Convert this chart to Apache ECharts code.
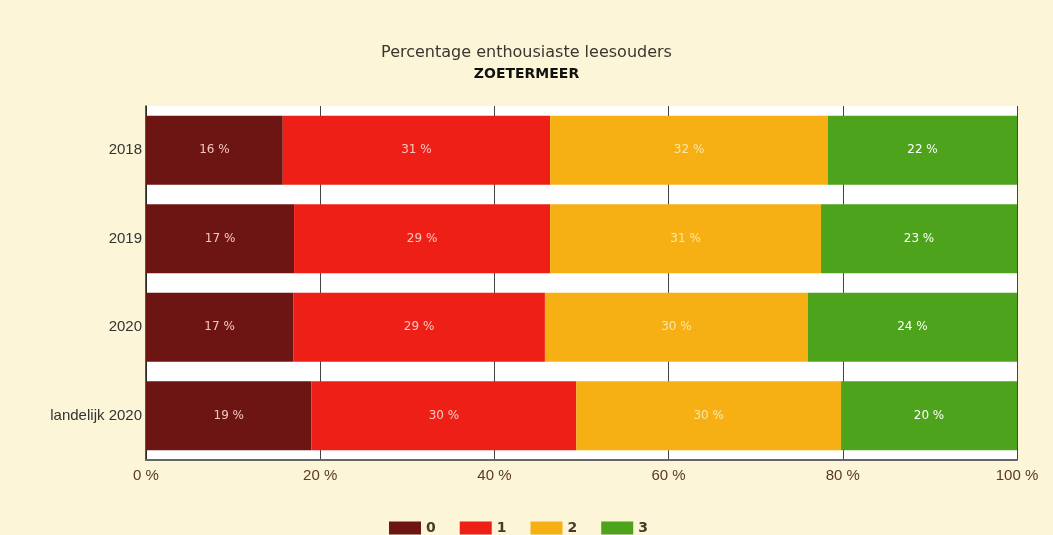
<!DOCTYPE html>
<html>
<head>
<meta charset="utf-8">
<script src="https://cdn.jsdelivr.net/npm/echarts@6/dist/echarts.min.js"></script>
<style>
  html, body { margin: 0; padding: 0; background: #fcf5d7; }
  #main { width: 1053px; height: 535px; }
</style>
</head>
<body>
<div id="main"></div>
<script>
// categorieen (boven naar beneden)
var categories = ["2018", "2019", "2020", "landelijk 2020"];
var seriesNames = ["0", "1", "2", "3"];
// aandelen in procenten
var score0 = [15.7, 17.0, 16.9, 19.0];
var score1 = [30.7, 29.4, 28.9, 30.4];
var score2 = [31.9, 31.1, 30.2, 30.4];
var score3 = [21.7, 22.6, 24.0, 20.2];
var xTicks = [0, 20, 40, 60, 80, 100];

var colors = ["#6c1513", "#ee1f17", "#f6b014", "#4da31c"];
var labelColors = ["#f1c6c0", "#f8c8c0", "#fbe6a8", "#ffffff"];
var values = [score0, score1, score2, score3];

var myChart = echarts.init(document.getElementById("main"));

var series = seriesNames.map(function (name, i) {
  return {
    name: name,
    type: "bar",
    stack: "totaal",
    barCategoryGap: "22%",
    data: values[i],
    itemStyle: { color: colors[i] },
    label: {
      show: true,
      position: "inside",
      color: labelColors[i],
      fontFamily: "DejaVu Sans",
      fontSize: 12,
      formatter: function (p) {
        return Math.round(p.value) + " %";
      }
    }
  };
});

myChart.setOption({
  backgroundColor: "#fcf5d7",
  animation: false,
  title: {
    text: "Percentage enthousiaste leesouders",
    subtext: "ZOETERMEER",
    left: "center",
    top: 40,
    itemGap: 6,
    textStyle: {
      fontFamily: "DejaVu Sans",
      fontSize: 16,
      fontWeight: "normal",
      color: "#3a3530"
    },
    subtextStyle: {
      fontFamily: "DejaVu Sans",
      fontSize: 14,
      fontWeight: "bold",
      color: "#111"
    }
  },
  legend: {
    top: 516,
    left: 384,
    itemWidth: 32,
    itemHeight: 13,
    itemGap: 24,
    icon: "rect",
    data: seriesNames,
    textStyle: {
      fontFamily: "DejaVu Sans",
      fontSize: 14,
      fontWeight: "bold",
      color: "#4a3a2a"
    }
  },
  grid: {
    left: 146,
    right: 36,
    top: 106,
    bottom: 75,
    show: true,
    backgroundColor: "#ffffff",
    borderWidth: 0
  },
  xAxis: {
    type: "value",
    min: 0,
    max: 100,
    interval: 20,
    axisLine: { show: true, lineStyle: { color: "#666", width: 2 } },
    axisTick: { show: false },
    splitLine: { show: true, lineStyle: { color: "#444", width: 1 } },
    axisLabel: {
      color: "#5a3a1c",
      fontFamily: "Liberation Sans Narrow, Liberation Sans",
      fontSize: 15,
      margin: 8,
      formatter: function (v) {
        return xTicks.indexOf(v) >= 0 ? v + " %" : "";
      }
    }
  },
  yAxis: {
    type: "category",
    inverse: true,
    data: categories,
    axisLine: { show: true, onZero: false, lineStyle: { color: "#222", width: 1.5 } },
    axisTick: { show: false },
    axisLabel: {
      color: "#333",
      fontFamily: "Liberation Sans",
      fontSize: 15,
      margin: 4
    }
  },
  series: series
});
</script>
</body>
</html>
